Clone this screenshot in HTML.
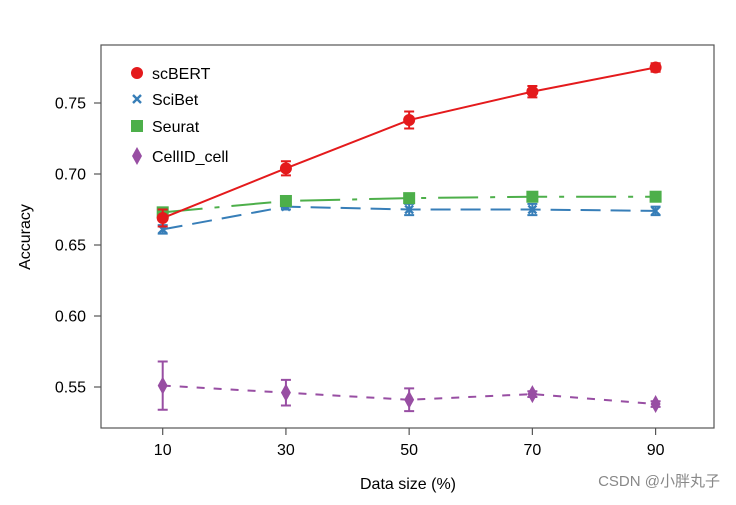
<!DOCTYPE html>
<html><head><meta charset="utf-8"><style>
body{margin:0;background:#fff;}
svg text{font-family:"Liberation Sans","Noto Sans CJK SC",sans-serif;}
</style></head><body>
<svg id="chart" width="736" height="500" xmlns="http://www.w3.org/2000/svg">
<rect x="0" y="0" width="736" height="500" fill="#fff"/>
<rect x="101" y="45" width="613" height="383" fill="none" stroke="#555" stroke-width="1.2"/>
<g id="axes"></g>
<g id="series"></g>
<g id="legend"></g>
<text x="30" y="237" transform="rotate(-90 30 237)" text-anchor="middle" font-size="16" fill="#000">Accuracy</text>
<text x="408" y="489" text-anchor="middle" font-size="16" fill="#000">Data size (%)</text>
<text x="720" y="486" text-anchor="end" font-size="15" fill="#888">CSDN @小胖丸子</text>
</svg>
<script>
const xCats=[10,30,50,70,90];
const yTicks=[0.55,0.60,0.65,0.70,0.75];
const yTickLabels=["0.55","0.60","0.65","0.70","0.75"];
const scbert=[0.669,0.704,0.738,0.758,0.775];
const scbertErr=[0.006,0.005,0.006,0.004,0.003];
const scibet=[0.661,0.677,0.675,0.675,0.674];
const scibetErr=[0.003,0.002,0.004,0.004,0.003];
const seurat=[0.673,0.681,0.683,0.684,0.684];
const seuratErr=[0.003,0.003,0.002,0.001,0.001];
const cellid=[0.551,0.546,0.541,0.545,0.538];
const cellidErr=[0.017,0.009,0.008,0.002,0.002];
const seriesNames=["scBERT","SciBet","Seurat","CellID_cell"];

const NS="http://www.w3.org/2000/svg";
function X(v){return 162.7+(v-10)*(655.6-162.7)/80;}
function Y(v){return 103+(0.75-v)*1420;}
function mk(tag,attrs,parent){const e=document.createElementNS(NS,tag);for(const k in attrs)e.setAttribute(k,attrs[k]);parent.appendChild(e);return e;}
const axes=document.getElementById('axes');
xCats.forEach((c,i)=>{
  const t=mk('line',{x1:X(c),x2:X(c),y1:428,y2:435,stroke:'#555','stroke-width':1.2},axes);
  
  
  const l=mk('text',{x:X(c),y:455,'text-anchor':'middle','font-size':16},axes);
  l.textContent=String(c);
  
  
});
yTicks.forEach((v,i)=>{
  const t=mk('line',{x1:94,x2:101,y1:Y(v),y2:Y(v),stroke:'#555','stroke-width':1.2},axes);
  
  
  const l=mk('text',{x:86,y:Y(v)+5.5,'text-anchor':'end','font-size':16},axes);
  l.textContent=yTickLabels[i];
  
  
});
const sg=document.getElementById('series');
function marker(type,x,y,color,parent){
  let e;
  if(type==='circle')e=mk('circle',{cx:x,cy:y,r:6,fill:color},parent);
  else if(type==='square')e=mk('rect',{x:x-6,y:y-6,width:12,height:12,fill:color},parent);
  else if(type==='diamond')e=mk('polygon',{points:`${x},${y-9} ${x+5},${y} ${x},${y+9} ${x-5},${y}`,fill:color},parent);
  else{e=mk('path',{d:`M${x-4},${y-4}L${x+4},${y+4}M${x+4},${y-4}L${x-4},${y+4}`,stroke:color,'stroke-width':2.4,fill:'none'},parent);}
  return e;
}
function drawSeries(name,vals,errs,color,dash,type){
  const g=mk('g',{},sg);
  
  
  const pts=vals.map((v,i)=>X(xCats[i])+','+Y(v)).join(' ');
  const ln=mk('polyline',{points:pts,fill:'none',stroke:color,'stroke-width':2,'stroke-dasharray':dash},g);
  
  
  vals.forEach((v,i)=>{
    const x=X(xCats[i]),y1=Y(v+errs[i]),y2=Y(v-errs[i]);
    const eb=mk('path',{d:`M${x},${y1}V${y2}M${x-5},${y1}H${x+5}M${x-5},${y2}H${x+5}`,stroke:color,'stroke-width':2,fill:'none'},g);
    
    
    const m=marker(type,x,Y(v),color,g);
    
    
  });
}
drawSeries(seriesNames[3],cellid,cellidErr,'#984ea3','8,9','diamond');
drawSeries(seriesNames[1],scibet,scibetErr,'#377eb8','20,10','x');
drawSeries(seriesNames[2],seurat,seuratErr,'#4daf4a','40,12,5,12','square');
drawSeries(seriesNames[0],scbert,scbertErr,'#e41a1c','','circle');
const lg=document.getElementById('legend');
const lt=['circle','x','square','diamond'],lc=['#e41a1c','#377eb8','#4daf4a','#984ea3'],ly=[73,99,126,156];
seriesNames.forEach((n,i)=>{
  const m=marker(lt[i],137,ly[i],lc[i],lg);
  
  
  const t=mk('text',{x:152,y:ly[i]+6,'font-size':16},lg);
  t.textContent=n;
  
  
});
</script>
</body></html>
